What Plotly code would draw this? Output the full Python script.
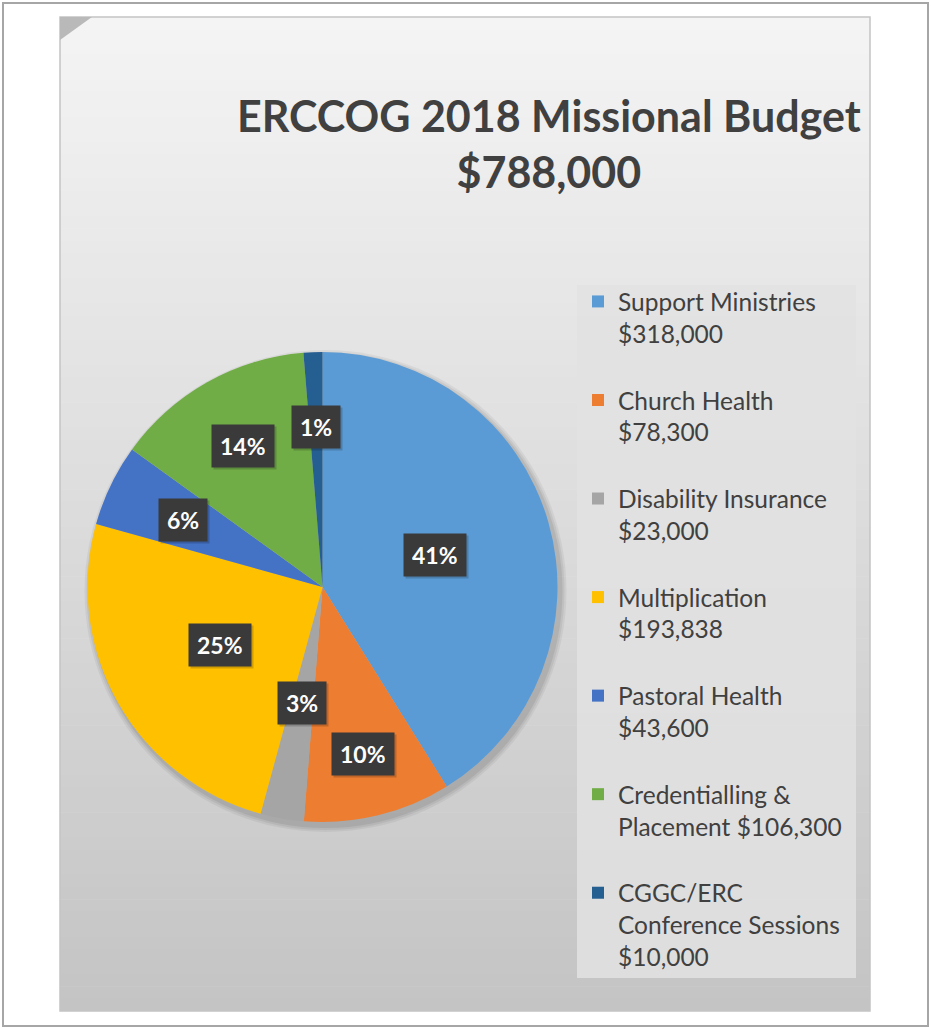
import math
import plotly.graph_objects as go

W, H = 931, 1028

# ---- data ----
categories = ["Support Ministries", "Church Health", "Disability Insurance",
              "Multiplication", "Pastoral Health", "Credentialling & Placement",
              "CGGC/ERC Conference Sessions"]
amounts = [318000, 78300, 23000, 193838, 43600, 106300, 10000]
legend_names = ["Support Ministries<br>$318,000",
                "Church Health<br>$78,300",
                "Disability Insurance<br>$23,000",
                "Multiplication<br>$193,838",
                "Pastoral Health<br>$43,600",
                "Credentialling &amp;<br>Placement $106,300",
                "CGGC/ERC<br>Conference Sessions<br>$10,000"]
title_lines = ["ERCCOG 2018 Missional Budget", "$788,000"]

# ---- style ----
colors = ["#5B9BD5", "#ED7D31", "#A5A5A5", "#FFC000", "#4472C4", "#70AD47", "#255E91"]
label_radius = [0.50, 0.73, 0.50, 0.50, 0.66, 0.69, 0.68]  # fraction of pie radius
CX, CY, R = 322.5, 587.0, 235.0   # pie centre / radius in px
TXT = "#404040"


def px(x):
    return x / W


def py(y):
    return 1 - y / H


shapes = []
# outer frame
shapes.append(dict(type="rect", xref="paper", yref="paper", x0=px(3), x1=px(928),
                   y0=py(3), y1=py(1026), line=dict(color="#a6a6a6", width=2),
                   fillcolor="white", layer="below"))
# panel gradient (vertical bands)
top, bot = 17, 1011
nb = 80
for i in range(nb):
    y0 = top + (bot - top) * i / nb
    y1 = top + (bot - top) * (i + 1) / nb + 0.6
    t = i / (nb - 1)
    c = int(round(244 - (244 - 196) * t))
    shapes.append(dict(type="rect", xref="paper", yref="paper", x0=px(60), x1=px(870),
                       y0=py(y0), y1=py(min(y1, bot)), line=dict(width=0),
                       fillcolor=f"rgb({c},{c},{c})", layer="below"))
# panel outline
shapes.append(dict(type="rect", xref="paper", yref="paper", x0=px(60), x1=px(870),
                   y0=py(17), y1=py(1011), line=dict(color="#c4c4c4", width=1.5),
                   fillcolor="rgba(0,0,0,0)", layer="below"))
# folded corner
shapes.append(dict(type="path", xref="paper", yref="paper",
                   path=f"M {px(60)},{py(17)} L {px(92)},{py(17)} L {px(60)},{py(40)} Z",
                   line=dict(width=0), fillcolor="#b9b9b9", layer="below"))
# legend box
shapes.append(dict(type="rect", xref="paper", yref="paper", x0=px(577), x1=px(856),
                   y0=py(285), y1=py(978), line=dict(width=0),
                   fillcolor="rgba(226,226,226,0.85)", layer="below"))
# soft pie shadow
for k, a in [(6, 0.05), (4, 0.06), (2, 0.07)]:
    shapes.append(dict(type="circle", xref="paper", yref="paper",
                       x0=px(CX - R - k + 3), x1=px(CX + R + k + 3),
                       y0=py(CY - R - k + 4), y1=py(CY + R + k + 4),
                       line=dict(width=0), fillcolor=f"rgba(0,0,0,{a})", layer="below"))

fig = go.Figure()
fig.add_trace(go.Pie(
    labels=[n + "<br>\u00a0" if n.count("<br>") < 2 else n for n in legend_names],
    values=amounts,
    marker=dict(colors=colors, line=dict(width=0)),
    sort=False,
    direction="clockwise",
    rotation=0,
    textinfo="none",
    hoverinfo="label+value+percent",
    domain=dict(x=[px(CX - R), px(CX + R)], y=[py(CY + R), py(CY - R)]),
))

# percentage labels placed at the slice mid-angles
total = sum(amounts)
annotations = []
cum = 0.0
for v, fr in zip(amounts, label_radius):
    frac = v / total
    mid = (cum + frac / 2) * 2 * math.pi
    cum += frac
    x = CX + fr * R * math.sin(mid)
    y = CY - fr * R * math.cos(mid)
    pct = round(frac * 100)
    # small drop shadow behind the label box
    annotations.append(dict(
        x=px(x + 2), y=py(y + 2), xref="paper", yref="paper", showarrow=False,
        text=f"<b>{pct}%</b>",
        font=dict(family="Lato", size=23, color="rgba(0,0,0,0)"),
        bgcolor="rgba(0,0,0,0.18)", borderpad=8, height=26,
        xanchor="center", yanchor="middle",
    ))
    annotations.append(dict(
        x=px(x), y=py(y), xref="paper", yref="paper", showarrow=False,
        text=f"<b>{pct}%</b>",
        font=dict(family="Lato", size=23, color="white"),
        bgcolor="#3a3a3a", borderpad=8, height=26,
        xanchor="center", yanchor="middle",
    ))

annotations.append(dict(
    x=px(549), y=py(144), xref="paper", yref="paper", showarrow=False,
    text="<b>" + "<br>".join(title_lines) + "</b>",
    font=dict(family="Lato", size=43, color=TXT),
    xanchor="center", yanchor="middle", align="center",
))

fig.update_layout(
    width=W, height=H,
    margin=dict(l=0, r=0, t=0, b=0),
    paper_bgcolor="white",
    plot_bgcolor="white",
    shapes=shapes,
    annotations=annotations,
    showlegend=True,
    legend=dict(
        x=px(578), y=py(279), xanchor="left", yanchor="top",
        bgcolor="rgba(0,0,0,0)",
        font=dict(family="Lato", size=24.5, color=TXT),
        valign="top",
        tracegroupgap=0,
        itemclick=False,
    ),
)

fig.write_html("out.html",
               config={"displayModeBar": False},
               post_script="document.body.style.margin='0';document.body.style.overflow='hidden';")
